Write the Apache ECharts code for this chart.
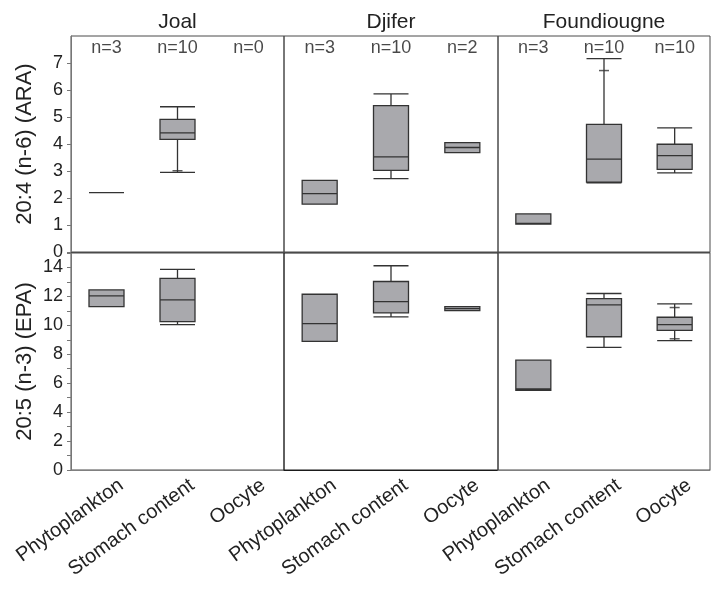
<!DOCTYPE html>
<html><head><meta charset="utf-8">
<script src="https://cdn.jsdelivr.net/npm/echarts@6/dist/echarts.min.js"></script>
<style>html,body{margin:0;padding:0;background:#fff}#c{width:712px;height:590px}</style>
</head><body><div id="c"></div>
<script>
// ---- data ----
const sites = ['Joal', 'Djifer', 'Foundiougne'];
const categories = ['Phytoplankton', 'Stomach content', 'Oocyte'];
const nCounts = [[3, 10, 0], [3, 10, 2], [3, 10, 10]];
const rowNames = ['20:4 (n-6) (ARA)', '20:5 (n-3) (EPA)'];
const araTicks = [0, 1, 2, 3, 4, 5, 6, 7];
const epaTicks = [0, 2, 4, 6, 8, 10, 12, 14];
// box values: [min, Q1, median, Q3, max]
const araJoal = [[2.2, 2.2, 2.2, 2.2, 2.2], [2.95, 4.17, 4.41, 4.91, 5.38]];
const araDjifer = [[1.77, 1.77, 2.16, 2.65, 2.65], [2.72, 3.02, 3.52, 5.42, 5.86], [3.68, 3.68, 3.87, 4.05, 4.05]];
const araFoundiougne = [[1.03, 1.03, 1.06, 1.41, 1.41], [2.56, 2.59, 3.44, 4.73, 7.16], [2.93, 3.06, 3.57, 3.99, 4.60]];
const epaJoal = [[11.3, 11.3, 12.04, 12.45, 12.45], [10.05, 10.25, 11.76, 13.24, 13.87]];
const epaDjifer = [[8.89, 8.89, 10.12, 12.15, 12.15], [10.58, 10.86, 11.64, 13.03, 14.12], [11.02, 11.02, 11.15, 11.3, 11.3]];
const epaFoundiougne = [[5.51, 5.51, 5.6, 7.59, 7.59], [8.47, 9.21, 11.41, 11.85, 12.2], [8.94, 9.65, 10.05, 10.56, 11.48]];
// small inner whisker marks [category index, value]
const araJoalMarks = [[1, 3.01]];
const araDjiferMarks = [];
const araFoundiougneMarks = [[1, 6.72]];
const epaJoalMarks = [];
const epaDjiferMarks = [];
const epaFoundiougneMarks = [[2, 11.23], [2, 9.07]];

const boxes = [[araJoal, araDjifer, araFoundiougne], [epaJoal, epaDjifer, epaFoundiougne]];
const marks = [[araJoalMarks, araDjiferMarks, araFoundiougneMarks], [epaJoalMarks, epaDjiferMarks, epaFoundiougneMarks]];

// ---- layout / style ----
const FONT = "'Liberation Sans', Arial, Helvetica, sans-serif";
const colLeft = [71, 284, 498];
const colWidth = [213, 214, 212];
const rowTop = [36, 253];
const rowHeight = [216, 217];
const rowMax = [8, 15];
const rowInterval = [1, 2];
const nLabelY = 7.55;

const grid = [], xAxis = [], yAxis = [], series = [];
let gi = 0;
for (let r = 0; r < 2; r++) {
  for (let c = 0; c < 3; c++) {
    const borderCol = (r === 1 && c === 1) ? '#1a1a1a' : '#4a4a4a';
    grid.push({left: colLeft[c], width: colWidth[c], top: rowTop[r], height: rowHeight[r],
      containLabel: false, outerBoundsMode: 'none',
      show: true, borderColor: borderCol, borderWidth: 1, backgroundColor: 'transparent'});
    const xa = {
      type: 'category', gridIndex: gi, data: categories, boundaryGap: true,
      axisLine: {show: true, lineStyle: {color: r === 1 && c !== 1 ? '#808080' : borderCol, width: 1}},
      axisTick: {show: false}, splitLine: {show: false}
    };
    if (r === 0) {
      xa.position = 'top';
      xa.axisLabel = {show: false};
      xa.name = sites[c];
      xa.nameLocation = 'middle';
      xa.nameGap = 3;
      xa.nameTextStyle = {fontFamily: FONT, fontSize: 21, color: '#222', verticalAlign: 'bottom'};
    } else {
      xa.axisLabel = {show: true, interval: 0, rotate: 36, fontFamily: FONT, fontSize: 20,
        color: '#222', margin: -7, verticalAlign: 'top', lineHeight: 50, hideOverlap: false};
    }
    xAxis.push(xa);
    const ya = {type: 'value', gridIndex: gi, min: 0, max: rowMax[r], interval: rowInterval[r],
      splitLine: {show: false}};
    if (c === 0) {
      Object.assign(ya, {
        axisLine: {show: true, lineStyle: {color: '#777'}},
        axisTick: {show: true, length: 4, lineStyle: {color: '#777'}},
        minorTick: {show: r === 1, splitNumber: 2, length: 4, lineStyle: {color: '#777'}},
        axisLabel: {show: true, fontFamily: FONT, fontSize: 18, color: '#222', margin: 8,
          showMaxLabel: false,
          formatter: v => (r === 0 ? araTicks : epaTicks).indexOf(v) >= 0 ? String(v) : ''},
        name: rowNames[r], nameLocation: 'middle', nameGap: 35,
        nameTextStyle: {fontFamily: FONT, fontSize: 22, color: '#222'}
      });
    } else {
      Object.assign(ya, {axisLine: {show: false}, axisTick: {show: false}, axisLabel: {show: false}});
    }
    yAxis.push(ya);

    series.push({
      type: 'boxplot', xAxisIndex: gi, yAxisIndex: gi, data: boxes[r][c],
      boxWidth: [35, 35],
      itemStyle: {color: '#a9a9ad', borderColor: '#333', borderWidth: 1.3},
      emphasis: {disabled: true}, silent: true, animation: false
    });
    if (marks[r][c].length) {
      series.push({
        type: 'scatter', xAxisIndex: gi, yAxisIndex: gi, data: marks[r][c],
        symbol: 'rect', symbolSize: [10, 1.5], itemStyle: {color: '#333'}, silent: true, animation: false
      });
    }
    if (r === 0) {
      const cc = c;
      series.push({
        type: 'scatter', xAxisIndex: gi, yAxisIndex: gi,
        data: categories.map((k, i) => [i, nLabelY]),
        symbolSize: 0, silent: true, animation: false,
        label: {show: true, position: 'inside', fontFamily: FONT, fontSize: 18, color: '#1a1a1a',
          formatter: p => 'n=' + nCounts[cc][p.dataIndex]}
      });
    }
    gi++;
  }
}

const chart = echarts.init(document.getElementById('c'), null, {renderer: 'canvas'});
chart.setOption({animation: false, backgroundColor: '#fff', grid, xAxis, yAxis, series});
</script>
</body></html>
